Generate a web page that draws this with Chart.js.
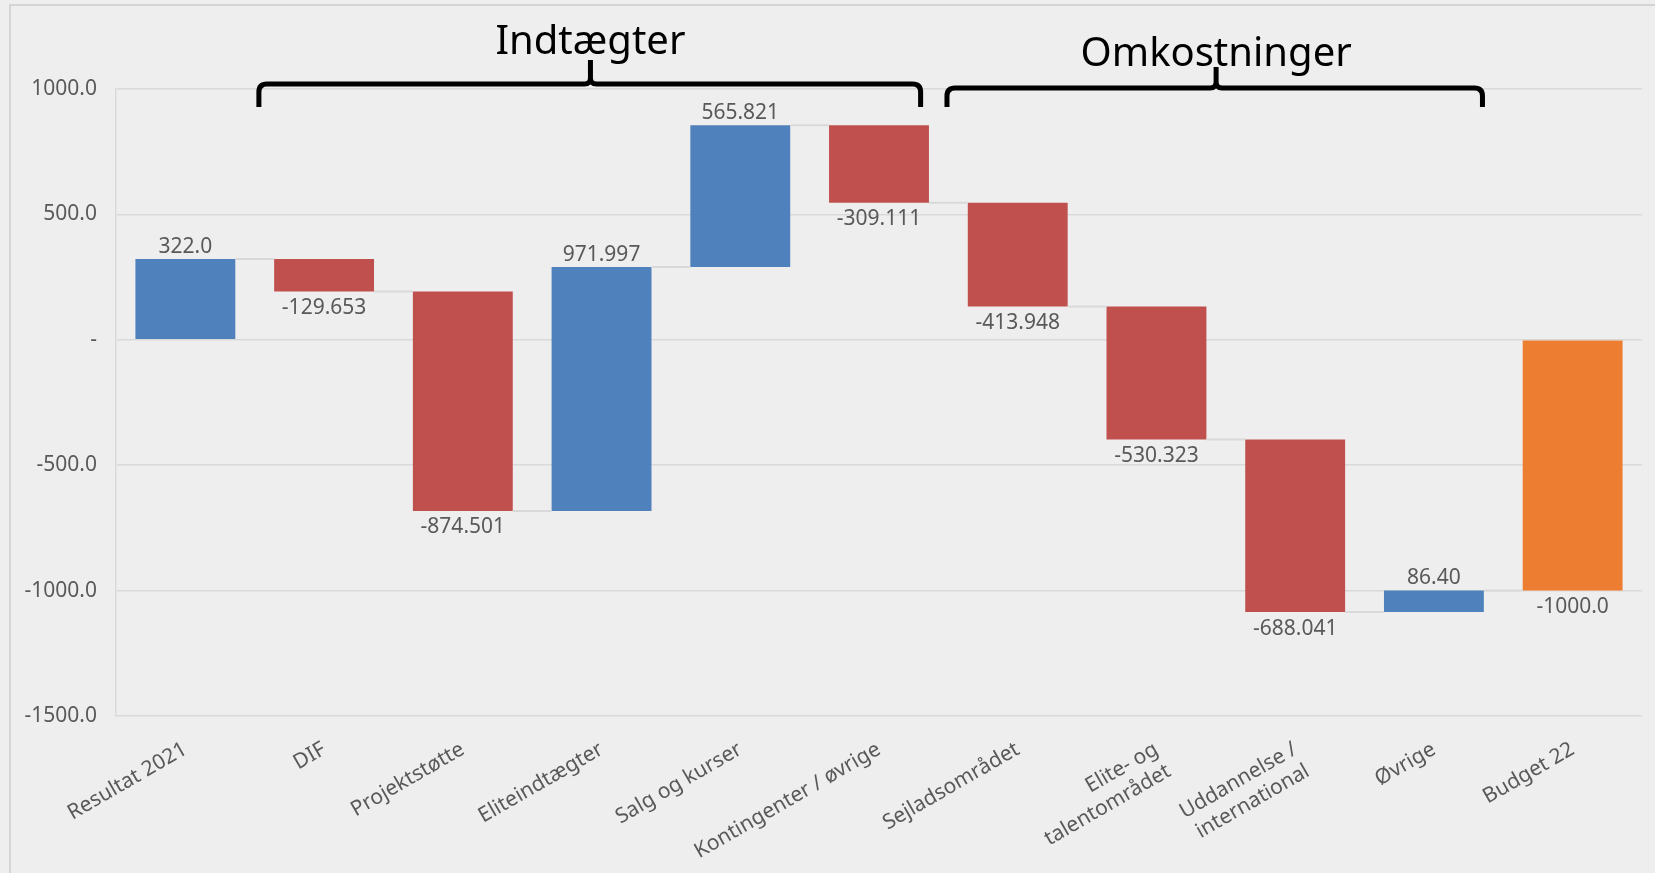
<!DOCTYPE html>
<html>
<head>
<meta charset="utf-8">
<script src="https://cdn.jsdelivr.net/npm/chart.js@4.4.1/dist/chart.umd.min.js"></script>
<style>
  body { margin: 0; background: #eeeeee; }
  #wrap { width: 1655px; height: 873px; position: relative; }
</style>
</head>
<body>
<div id="wrap"><canvas id="myChart"></canvas></div>
<script>
var categories = ["Resultat 2021", "DIF", "Projektstøtte", "Eliteindtægter", "Salg og kurser",
    "Kontingenter / øvrige", "Sejladsområdet", ["Elite- og", "talentområdet"],
    ["Uddannelse /", "international"], "Øvrige", "Budget 22"];
var changes = [322.0, -129.653, -874.501, 971.997, 565.821, -309.111, -413.948, -530.323, -688.041, 86.40, -1000.0];
var valueLabels = ["322.0", "-129.653", "-874.501", "971.997", "565.821", "-309.111",
    "-413.948", "-530.323", "-688.041", "86.40", "-1000.0"];
var isTotal = [false, false, false, false, false, false, false, false, false, false, true];
var yTicks = [1000, 500, 0, -500, -1000, -1500];

var FONT = "'Noto Sans', 'Open Sans', sans-serif";
var BLUE = "#4f81bd", RED = "#c0504d", ORANGE = "#ed7d31";

// waterfall ranges
var ranges = [];
var barColors = [];
var run = 0;
for (var i = 0; i < changes.length; i++) {
    if (isTotal[i]) {
        ranges.push([0, changes[i]]);
        barColors.push(ORANGE);
    } else {
        ranges.push([run, run + changes[i]]);
        run += changes[i];
        barColors.push(changes[i] >= 0 ? BLUE : RED);
    }
}

var extras = {
    id: "extras",
    beforeDraw: function (chart) {
        var c = chart.ctx;
        c.save();
        c.fillStyle = "#eeeeee";
        c.fillRect(0, 0, chart.width, chart.height);
        c.strokeStyle = "#d4d4d4";
        c.lineWidth = 2;
        c.beginPath();
        c.moveTo(10, chart.height);
        c.lineTo(10, 5);
        c.lineTo(chart.width, 5);
        c.stroke();
        c.restore();
    },
    afterDatasetsDraw: function (chart) {
        var c = chart.ctx;
        var x = chart.scales.x, y = chart.scales.y;
        var bars = chart.getDatasetMeta(0).data;
        c.save();
        // connectors
        c.strokeStyle = "#d9d9d9";
        c.lineWidth = 2;
        for (var i = 0; i < bars.length - 1; i++) {
            var lvl = y.getPixelForValue(ranges[i][1]);
            c.beginPath();
            c.moveTo(bars[i].x + bars[i].width / 2, lvl);
            c.lineTo(bars[i + 1].x - bars[i + 1].width / 2, lvl);
            c.stroke();
        }
        // value labels
        c.fillStyle = "#595959";
        c.font = "21px " + FONT;
        c.textAlign = "center";
        for (var j = 0; j < bars.length; j++) {
            var lo = Math.min(ranges[j][0], ranges[j][1]);
            var hi = Math.max(ranges[j][0], ranges[j][1]);
            if (changes[j] >= 0) {
                c.textBaseline = "alphabetic";
                c.fillText(valueLabels[j], bars[j].x, y.getPixelForValue(hi) - 6);
            } else {
                c.textBaseline = "top";
                c.fillText(valueLabels[j], bars[j].x, y.getPixelForValue(lo) + 6);
            }
        }
        // brackets + group titles
        var step = x.getPixelForValue(1) - x.getPixelForValue(0);
        var px = function (v) { return x.getPixelForValue(0) + v * step; };
        var top = chart.chartArea.top;
        c.strokeStyle = "#000000";
        c.lineWidth = 5;
        c.lineJoin = "round";
        drawBrace(c, px(0.53), px(5.3), px(2.92), top - 5, top + 18, top - 29);
        drawBrace(c, px(5.49), px(9.35), px(7.43), top - 1, top + 18, top - 22);
        c.fillStyle = "#000000";
        c.font = "40px " + FONT;
        c.textAlign = "center";
        c.textBaseline = "alphabetic";
        c.fillText("Indtægter", px(2.92), top - 35);
        c.fillText("Omkostninger", px(7.43), top - 23);
        c.restore();
    }
};

function drawBrace(c, x1, x2, xc, yLine, yEnd, yPeak) {
    var r = 8;
    c.beginPath();
    c.moveTo(x1, yEnd);
    c.lineTo(x1, yLine + r);
    c.quadraticCurveTo(x1, yLine, x1 + r, yLine);
    c.lineTo(xc - 6, yLine);
    c.quadraticCurveTo(xc, yLine, xc, yLine - 6);
    c.lineTo(xc, yPeak);
    c.moveTo(xc, yLine - 6);
    c.quadraticCurveTo(xc, yLine, xc + 6, yLine);
    c.lineTo(x2 - r, yLine);
    c.quadraticCurveTo(x2, yLine, x2, yLine + r);
    c.lineTo(x2, yEnd);
    c.stroke();
}

new Chart("myChart", {
    type: "bar",
    data: {
        labels: categories,
        datasets: [{
            data: ranges,
            backgroundColor: barColors,
            borderWidth: 0,
            barPercentage: 0.72,
            categoryPercentage: 1
        }]
    },
    options: {
        responsive: true,
        maintainAspectRatio: false,
        animation: false,
        layout: {padding: {top: 89, right: 13, left: 0, bottom: 0}},
        plugins: {
            legend: {display: false},
            tooltip: {enabled: false}
        },
        scales: {
            x: {
                grid: {display: false},
                border: {display: false},
                ticks: {
                    color: "#595959",
                    font: {family: FONT, size: 21},
                    minRotation: 30,
                    maxRotation: 30,
                    autoSkip: false,
                    padding: 13
                },
                afterFit: function (s) { s.height = 157; }
            },
            y: {
                min: -1500,
                max: 1000,
                afterBuildTicks: function (s) {
                    s.ticks = yTicks.map(function (v) { return {value: v}; });
                },
                grid: {color: "#d9d9d9", lineWidth: 1.5, drawTicks: false},
                border: {color: "#d9d9d9", width: 1.5},
                ticks: {
                    color: "#595959",
                    font: {family: FONT, size: 21},
                    padding: 19,
                    callback: function (v) { return v === 0 ? "-" : v.toFixed(1); }
                },
                afterFit: function (s) { s.width = 116; }
            }
        }
    },
    plugins: [extras]
});
</script>
</body>
</html>
